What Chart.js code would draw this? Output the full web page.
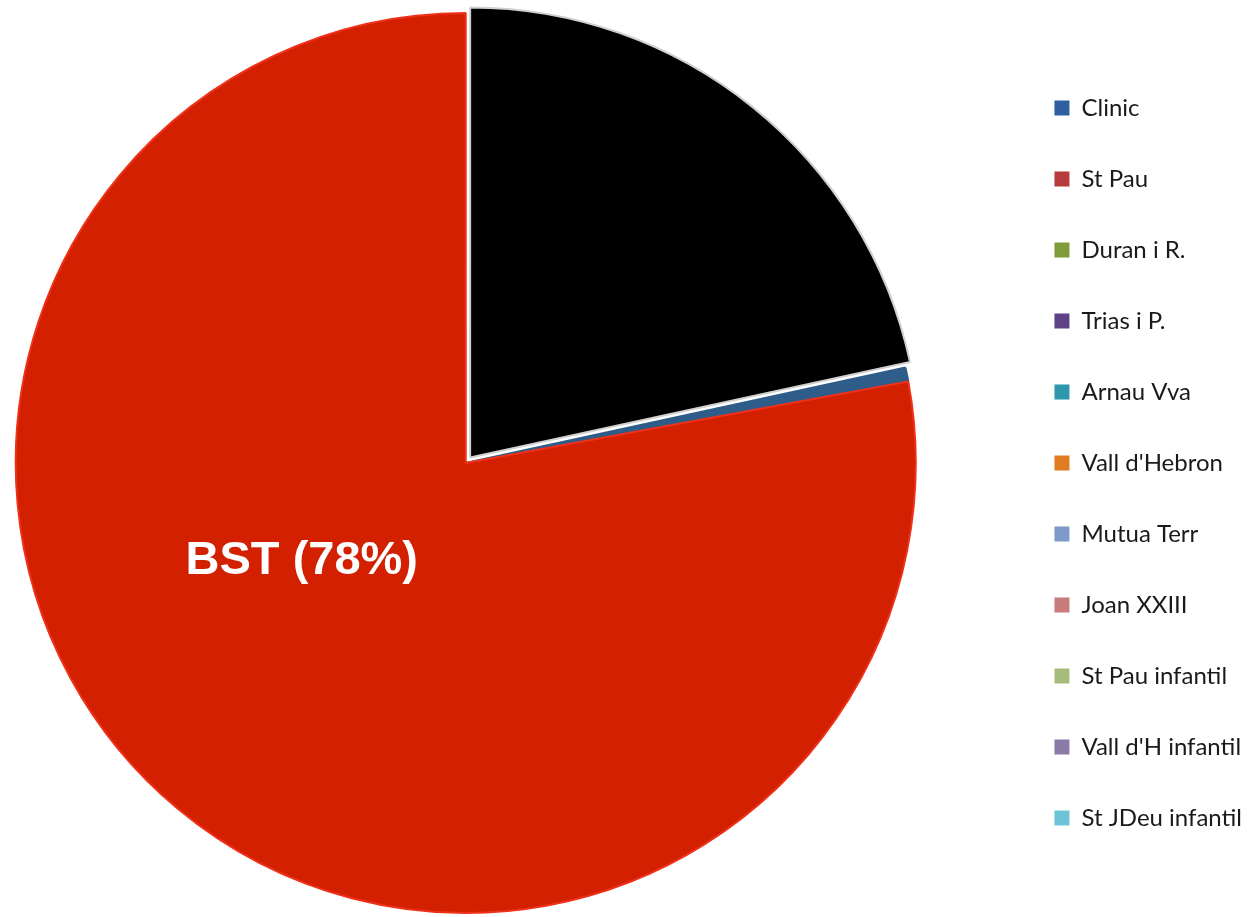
<!DOCTYPE html>
<html>
<head>
<meta charset="utf-8">
<script src="https://cdn.jsdelivr.net/npm/chart.js"></script>
<style>
  html, body { margin: 0; padding: 0; background: #fff; }
  #clip { width: 1252px; height: 917px; overflow: hidden; position: relative; }
  #wrap { width: 1328px; height: 917px; position: absolute; left: -76px; top: 0; }
</style>
</head>
<body>
<div id="clip"><div id="wrap"><canvas id="pieChart"></canvas></div></div>
<script>
// slices actually drawn in the pie
const sliceLabels = ['Altres', 'Clinic', 'BST'];
const sliceValues = [21.6, 0.5, 77.9];
const sliceColors = ['#000000', '#2f5d8a', '#d22000'];
const sliceBorders = ['#d0d0d0', '#2f5d8a', '#f03018'];
const sliceOffsets = [28, 0, 0];

// legend entries as shown on the right
const legendLabels = ['Clinic', 'St Pau', 'Duran i R.', 'Trias i P.', 'Arnau Vva', "Vall d'Hebron",
  'Mutua Terr', 'Joan XXIII', 'St Pau infantil', "Vall d'H infantil", 'St JDeu infantil'];
const legendColors = ['#2e5f9e', '#b83b3b', '#7f9c3a', '#5f4188', '#2d97ad', '#e07c22',
  '#7d9ac8', '#c97b7b', '#a5bd7c', '#8a7aa8', '#6cc4d6'];

const bigLabel = 'BST (78%)';

// white label inside the red slice
const sliceLabelPlugin = {
  id: 'sliceLabel',
  afterDatasetsDraw(chart) {
    const arc = chart.getDatasetMeta(0).data[2];
    if (!arc) return;
    const ang = (239 - 90) * Math.PI / 180;
    const r = arc.outerRadius * 0.425;
    const ctx = chart.ctx;
    ctx.save();
    ctx.font = 'bold 47px "Liberation Sans", Arial, sans-serif';
    ctx.fillStyle = '#ffffff';
    ctx.textAlign = 'center';
    ctx.textBaseline = 'middle';
    ctx.fillText(bigLabel, arc.x + Math.cos(ang) * r, arc.y + Math.sin(ang) * r);
    ctx.restore();
  }
};

new Chart(document.getElementById('pieChart'), {
  type: 'pie',
  data: {
    labels: sliceLabels,
    datasets: [{
      data: sliceValues,
      backgroundColor: sliceColors,
      borderColor: sliceBorders,
      borderWidth: 2,
      offset: sliceOffsets,
      radius: 450
    }]
  },
  options: {
    responsive: true,
    maintainAspectRatio: false,
    animation: false,
    layout: { padding: { left: 0, right: 0, top: 9, bottom: 0 } },
    plugins: {
      tooltip: { enabled: false },
      legend: {
        position: 'right',
        labels: {
          padding: 47,
          boxWidth: 15,
          boxHeight: 15,
          color: '#1a1a1a',
          font: { family: 'Lato, "Open Sans", sans-serif', size: 24 },
          generateLabels: () => legendLabels.map((t, i) => ({
            text: t,
            fillStyle: legendColors[i],
            strokeStyle: legendColors[i],
            lineWidth: 0,
            fontColor: '#1a1a1a',
            hidden: false,
            index: i
          }))
        }
      }
    }
  },
  plugins: [sliceLabelPlugin]
});
</script>
</body>
</html>
